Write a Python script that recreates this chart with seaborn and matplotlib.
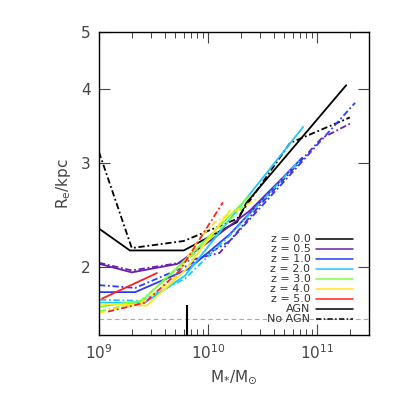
import numpy as np
import pandas as pd
import matplotlib
matplotlib.use("Agg")
import matplotlib.pyplot as plt
import matplotlib.ticker as mticker
import seaborn as sns

# redshift labels and line colours
redshifts = ["0.0", "0.5", "1.0", "2.0", "3.0", "4.0", "5.0"]
colors = ["#000000", "#6a1fb0", "#2a3cff", "#1ec8ff", "#7cff3c", "#ffe81a", "#ff2020"]

# AGN runs (solid): stellar mass [Msun], effective radius [kpc]
agn_mass = {
    "0.0": [1.0e9, 1.92e9, 6.0e9, 1.85e10, 2.23e10, 1.85e11],
    "0.5": [1.02e9, 2.0e9, 5.2e9, 1.04e10, 2.43e10, 6.3e10],
    "1.0": [1.02e9, 2.15e9, 6.6e9, 1.59e10, 7.3e10],
    "2.0": [1.02e9, 2.64e9, 6.15e9, 2.18e10, 7.45e10],
    "3.0": [1.02e9, 2.48e9, 6.85e9, 2.43e10],
    "4.0": [1.02e9, 2.75e9, 6.15e9, 1.59e10],
    "5.0": [1.07e9, 3.4e9],
}
agn_radius = {
    "0.0": [2.32, 2.13, 2.13, 2.38, 2.56, 4.06],
    "0.5": [2.02, 1.955, 2.02, 2.21, 2.49, 2.97],
    "1.0": [1.81, 1.81, 1.98, 2.27, 3.06],
    "2.0": [1.737, 1.737, 1.93, 2.59, 3.45],
    "3.0": [1.71, 1.75, 2.09, 2.64],
    "4.0": [1.73, 1.717, 1.97, 2.49],
    "5.0": [1.765, 1.95],
}

# No-AGN runs (dash-dot)
noagn_mass = {
    "0.0": [1.0e9, 2.0e9, 6.0e9, 1.85e10, 5.65e10, 2.0e11],
    "0.5": [1.0e9, 2.0e9, 5.6e9, 1.28e10, 2.98e10, 1.1e11, 2.1e11],
    "1.0": [1.0e9, 2.15e9, 6.6e9, 1.59e10, 5.65e10, 2.23e11],
    "2.0": [1.02e9, 2.45e9, 6.15e9, 1.59e10, 6.98e10],
    "3.0": [1.02e9, 2.3e9, 6.85e9, 2.18e10],
    "4.0": [1.02e9, 2.45e9, 4.98e9, 8.45e9, 1.16e10, 3.0e10],
    "5.0": [1.21e9, 2.64e9, 5.53e9, 1.37e10],
}
noagn_radius = {
    "0.0": [3.13, 2.15, 2.21, 2.41, 3.24, 3.58],
    "0.5": [2.03, 1.97, 2.03, 2.11, 2.54, 3.30, 3.51],
    "1.0": [1.86, 1.84, 2.01, 2.21, 2.86, 3.79],
    "2.0": [1.757, 1.75, 1.908, 2.26, 3.03],
    "3.0": [1.68, 1.737, 2.07, 2.54],
    "4.0": [1.67, 1.737, 1.915, 2.24, 2.38, 2.62],
    "5.0": [1.677, 1.737, 1.97, 2.57],
}

rows = []
for z in redshifts:
    for m, r in zip(agn_mass[z], agn_radius[z]):
        rows.append((m, r, z, "AGN"))
    for m, r in zip(noagn_mass[z], noagn_radius[z]):
        rows.append((m, r, z, "No AGN"))
df = pd.DataFrame(rows, columns=["mass", "radius", "z", "model"])

sns.set_theme(style="ticks")
plt.rcParams["font.family"] = ["DejaVu Sans"]
plt.rcParams["text.color"] = "#333333"

fig = plt.figure(figsize=(3.99, 3.99), dpi=100)
ax = fig.add_axes([0.248, 0.160, 0.677, 0.760])
ax.set_xscale("log")
ax.set_yscale("log")

dashdot = (3.5, 1.5, 1, 1.5)
sns.lineplot(data=df, x="mass", y="radius", hue="z", style="model",
             hue_order=redshifts, palette=colors,
             dashes={"AGN": "", "No AGN": dashdot},
             estimator=None, sort=False, legend=False, lw=1.3, ax=ax)

ax.axhline(1.63, color="#aaaaaa", lw=0.8, ls=(0, (4, 3)), zorder=0)
ax.vlines(6.4e9, 1.53, 1.72, color="black", lw=1.5)

ax.set_xlim(1e9, 3.0e11)
ax.set_ylim(1.53, 5.0)
ax.xaxis.set_major_locator(mticker.LogLocator(base=10))
ax.xaxis.set_minor_locator(mticker.LogLocator(base=10, subs=np.arange(2, 10), numticks=20))
ax.xaxis.set_minor_formatter(mticker.NullFormatter())
ax.set_yticks([2, 3, 4, 5])
ax.set_yticklabels(["2", "3", "4", "5"])
ax.yaxis.set_minor_locator(mticker.NullLocator())

for side in ["top", "right", "left", "bottom"]:
    ax.spines[side].set_visible(True)
    ax.spines[side].set_color("black")
    ax.spines[side].set_linewidth(1.0)
ax.tick_params(which="both", direction="in", top=True, right=True,
               colors="#444444", labelsize=11)
ax.tick_params(which="major", length=8, width=0.8, pad=6)
ax.tick_params(which="minor", length=4, width=0.7, color="#444444")
for lab in ax.get_xticklabels() + ax.get_yticklabels():
    lab.set_color("#444444")

ax.set_xlabel(r"M$_{*}$/M$_{\odot}$", fontsize=11, color="#444444", labelpad=4)
ax.set_ylabel(r"R$_\mathrm{e}$/kpc", fontsize=11, color="#444444", labelpad=6)

# legend drawn by hand: right-aligned labels with line samples
labels = ["z = " + z for z in redshifts] + ["AGN", "No AGN"]
lcolors = colors + ["black", "black"]
lstyles = ["-"] * 7 + ["-", (0, dashdot)]
y0 = 0.318
dy = 0.033
for i, (lab, c, s) in enumerate(zip(labels, lcolors, lstyles)):
    y = y0 - i * dy
    ax.text(0.783, y, lab, transform=ax.transAxes, ha="right", va="center",
            fontsize=8, color="#333333")
    ax.plot([0.805, 0.94], [y, y], transform=ax.transAxes, color=c,
            ls=s, lw=1.1)

fig.savefig("out.png", dpi=100)
